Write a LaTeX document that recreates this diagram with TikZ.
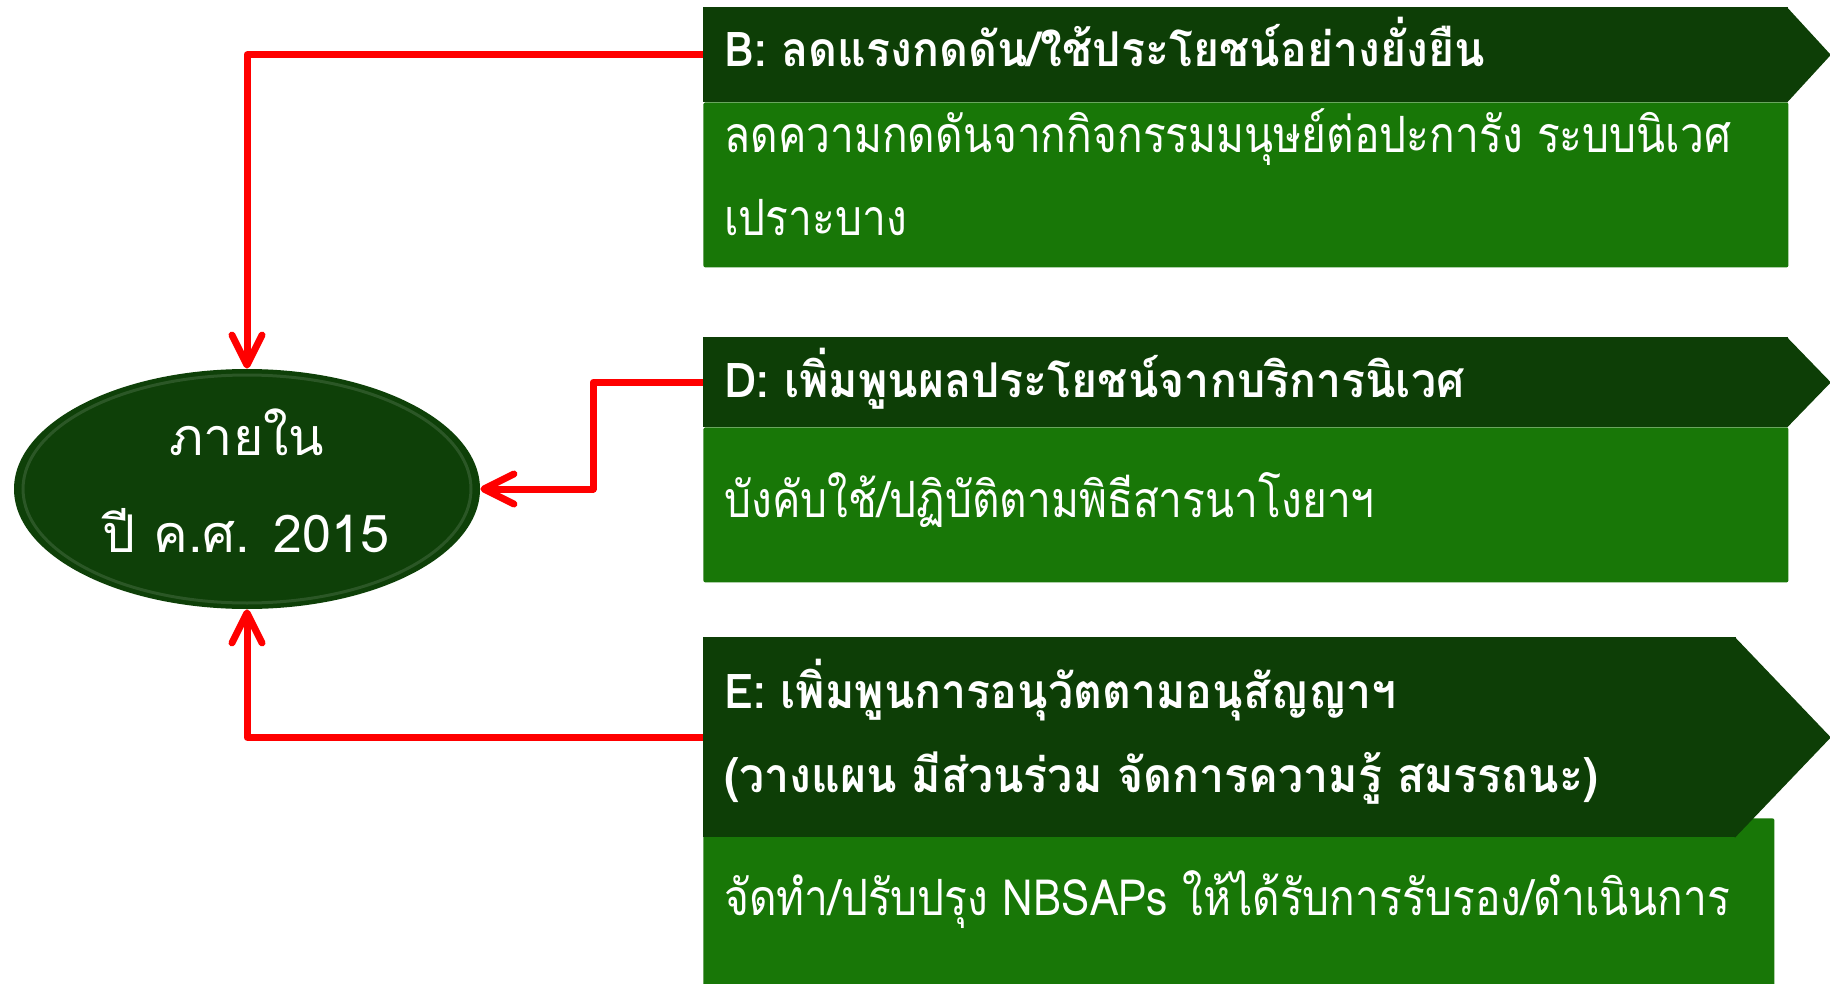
\documentclass[tikz,border=0pt]{standalone}
\usepackage{fontspec}
\setmainfont[Script=Thai]{Loma}
\newfontfamily\headfont[Script=Thai,FakeStretch=0.93]{Loma}
\newfontfamily\bodyfont[Script=Thai,FakeStretch=0.85]{Loma}
\usetikzlibrary{arrows.meta,positioning,shapes.geometric}
\definecolor{headgreen}{HTML}{0D3E06}
\definecolor{bodygreen}{HTML}{187707}
\definecolor{ovalgreen}{HTML}{0E4008}
\definecolor{linkred}{HTML}{FF0000}
\tikzset{
  head/.style={fill=headgreen, inner sep=0pt, anchor=north west},
  body/.style={fill=bodygreen, inner sep=0pt, anchor=north west, rounded corners=1pt},
  headtext/.style={text=white, inner sep=0pt, anchor=base west,
    font=\headfont\bfseries\fontsize{24}{42}\selectfont},
  bodytext/.style={text=white, inner sep=0pt, anchor=base west,
    font=\bodyfont\fontsize{25}{41}\selectfont},
  ovaltext/.style={text=white, inner sep=0pt, anchor=base,
    font=\fontsize{26}{48}\selectfont},
  link/.style={draw=linkred, line width=3.5pt, line join=round,
    -{Straight Barb[length=15pt,width=15pt,line cap=round,line join=round]}}
}
\begin{document}
\begin{tikzpicture}[x=0.5pt,y=-0.5pt]
\useasboundingbox (0,0) rectangle (1830,984);
% boxes
\node[body, minimum width=542.5pt, minimum height=82.5pt] (bB) at (703,102) {};
\node[head, minimum width=542.5pt, minimum height=47.5pt] (hB) at (703,7) {};
\fill[headgreen] ([xshift=-1pt]hB.north east) -- ([xshift=21pt]hB.east) -- ([xshift=-1pt]hB.south east) -- cycle;
\node[body, minimum width=542.5pt, minimum height=77.5pt] (bD) at (703,427) {};
\node[head, minimum width=542.5pt, minimum height=45pt] (hD) at (703,337) {};
\fill[headgreen] ([xshift=-1pt]hD.north east) -- ([xshift=21pt]hD.east) -- ([xshift=-1pt]hD.south east) -- cycle;
\node[body, minimum width=535.5pt, minimum height=90pt] (bE) at (703,818) {};
\node[head, minimum width=516.5pt, minimum height=100pt] (hE) at (703,637) {};
\fill[headgreen] ([xshift=-1pt]hE.north east) -- ([xshift=47pt]hE.east) -- ([xshift=-1pt]hE.south east) -- cycle;
% texts
\node[headtext] (tB) at (724,67) {B: ลดแรงกดดัน/ใช้ประโยชน์อย่างยั่งยืน};
\node[bodytext] (sB1) at (724,153) {ลดความกดดันจากกิจกรรมมนุษย์ต่อปะการัง ระบบนิเวศ};
\node[bodytext] (sB2) at (724,235) {เปราะบาง};
\node[headtext] (tD) at (724,397) {D: เพิ่มพูนผลประโยชน์จากบริการนิเวศ};
\node[bodytext] (sD) at (724,517) {บังคับใช้/ปฏิบัติตามพิธีสารนาโงยาฯ};
\node[headtext] (tE1) at (724,708) {E: เพิ่มพูนการอนุวัตตามอนุสัญญาฯ};
\node[headtext] (tE2) at (724,792) {(วางแผน มีส่วนร่วม จัดการความรู้ สมรรถนะ)};
\node[bodytext] (sE) at (724,915) {จัดทำ/ปรับปรุง NBSAPs ให้ได้รับการรับรอง/ดำเนินการ};
% oval
\node[ellipse, fill=ovalgreen, minimum width=233pt, minimum height=120pt, inner sep=0pt] (oval) at (247,489) {};
\draw[white, opacity=0.12, line width=1.5pt] (oval.center) ellipse [x radius=112pt, y radius=57pt];
\node[ovaltext] (o1) at (247,455) {ภายใน};
\node[ovaltext] (o2) at (246,552) {ปี ค.ศ. 2015};
% links
\draw[link] (hB.west) -| (oval.north);
\draw[link] (hD.west) -- ++(-110,0) |- (oval.east);
\draw[link] (hE.west) -| (oval.south);
\end{tikzpicture}
\end{document}
